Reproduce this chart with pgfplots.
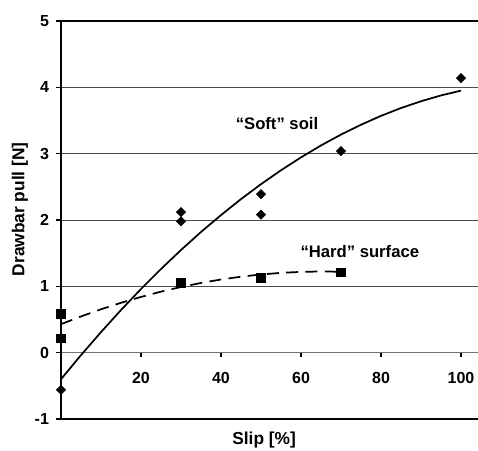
\documentclass[border=0pt]{standalone}
\usepackage{fontspec}
\setmainfont{Liberation Sans}
\usepackage{pgfplots}
\pgfplotsset{compat=1.18}

\begin{document}
\begin{tikzpicture}
\begin{axis}[
  scale only axis, width=312.75pt, height=298.5pt,
  xmin=0, xmax=104.25, ymin=-1, ymax=5,
  axis y line=left, axis x line=middle,
  y axis line style={-, black, line width=1.3pt},
  x axis line style={-, black!55, line width=0.9pt},
  xtick={20,40,60,80,100}, ytick={-1,0,1,2,3,4,5},
  tick align=outside, major tick length=3.5pt,
  tick style={black, line width=0.8pt},
  ymajorgrids, grid style={black!70, line width=0.6pt},
  tick label style={font=\fontsize{12}{14}\selectfont\bfseries, /pgf/number format/assume math mode=true},
  xticklabel style={yshift=-8pt},
  yticklabel style={xshift=-2pt},
  clip=false,
]
% fitted trend lines
\addplot[black, line width=1.3pt, mark=none] coordinates {
  (0,-0.40)(5,-0.037)(10,0.310)(15,0.643)(20,0.96)(25,1.261)(30,1.548)
  (35,1.819)(40,2.074)(45,2.315)(50,2.540)(55,2.750)(60,2.944)(65,3.124)
  (70,3.288)(75,3.436)(80,3.570)(85,3.688)(90,3.790)(95,3.878)(100,3.950)};
\addplot[black, line width=1.3pt, dash pattern=on 9pt off 5.5pt, mark=none] coordinates {
  (0,0.43)(5,0.546)(10,0.654)(15,0.752)(20,0.840)(25,0.920)(30,0.990)
  (35,1.051)(40,1.103)(45,1.145)(50,1.179)(55,1.203)(60,1.218)(65,1.224)(70,1.220)};
% measurements
\addplot[only marks, mark=square*, mark size=2.45pt, mark options={rotate=45, fill=black}] coordinates {
  (0,-0.56)(30,2.12)(30,1.98)(50,2.39)(50,2.08)(70,3.04)(100,4.14)};
\addplot[only marks, mark=square*, mark size=3.2pt, mark options={fill=black}] coordinates {
  (0,0.59)(0,0.22)(30,1.05)(50,1.13)(70,1.21)};

\draw[black, line width=0.8pt] (rel axis cs:0,0) -- (rel axis cs:1,0);
\draw[black, line width=0.8pt] (rel axis cs:0,1) -- (rel axis cs:1,1);
\node[font=\fontsize{12.5}{14}\selectfont\bfseries] at (axis cs:54,3.46) {``Soft'' soil};
\node[font=\fontsize{12.5}{14}\selectfont\bfseries] at (axis cs:74.7,1.53) {``Hard'' surface};
\node[font=\fontsize{13}{15}\selectfont\bfseries] at ([yshift=-15.75pt]rel axis cs:0.487,0) {Slip [\%]};
\node[font=\fontsize{13}{15}\selectfont\bfseries, rotate=90] at ([xshift=-30.75pt]rel axis cs:0,0.527) {Drawbar pull [N]};
\coordinate (ll) at (rel axis cs:0,0);
\coordinate (ur) at (rel axis cs:1,1);
\end{axis}
\pgfresetboundingbox
\path ([shift={(-45.75pt,-23.25pt)}]ll) rectangle ([shift={(0pt,15.75pt)}]ur);
\end{tikzpicture}
\end{document}
